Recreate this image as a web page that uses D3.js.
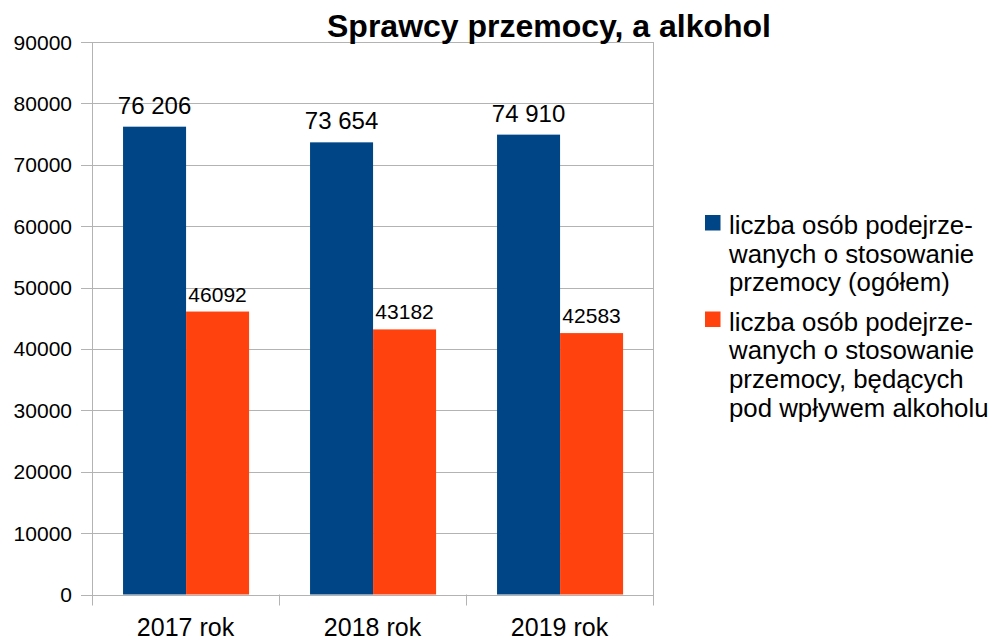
<!DOCTYPE html>
<html>
<head>
<meta charset="utf-8">
<script src="https://cdn.jsdelivr.net/npm/d3@7"></script>
<style>
    body { margin: 0; background: #fff; }
    text { font-family: "Liberation Sans", Arial, sans-serif; fill: #000; }
</style>
</head>
<body>
<div id="chart"></div>
<script>
var years = ["2017 rok", "2018 rok", "2019 rok"];
var ogolem = [76206, 73654, 74910];
var alkohol = [46092, 43182, 42583];
var seriesNames = [
    ["liczba osób podejrze-", "wanych o stosowanie", "przemocy (ogółem)"],
    ["liczba osób podejrze-", "wanych o stosowanie", "przemocy, będących", "pod wpływem alkoholu"]
];
var yTicks = [0, 10000, 20000, 30000, 40000, 50000, 60000, 70000, 80000, 90000];

var width = 991, height = 641;
var plot = {left: 92, right: 653, top: 42, bottom: 594.5};
var colors = ["#004586", "#ff420e"];

var svg = d3.select("#chart")
    .append("svg")
    .attr("width", width)
    .attr("height", height);

var y = d3.scaleLinear().domain([0, 90000]).range([plot.bottom, plot.top]);
var x = d3.scaleBand().domain(years).range([plot.left, plot.right]);
var x1 = d3.scaleBand().domain([0, 1])
    .range([x.bandwidth() * 0.166, x.bandwidth() * 0.84]);

// gridlines
svg.selectAll(".grid")
    .data(yTicks)
    .enter()
    .append("line")
    .attr("x1", plot.left - 11)
    .attr("x2", plot.right)
    .attr("y1", function (d) { return Math.round(y(d)) + 0.5; })
    .attr("y2", function (d) { return Math.round(y(d)) + 0.5; })
    .style("stroke", "#b3b3b3")
    .style("stroke-width", 1);

// vertical lines and category ticks
var edges = [plot.left, plot.right];
svg.selectAll(".edge")
    .data(edges)
    .enter()
    .append("line")
    .attr("x1", function (d) { return Math.round(d) + 0.5; })
    .attr("x2", function (d) { return Math.round(d) + 0.5; })
    .attr("y1", plot.top)
    .attr("y2", plot.bottom + 11)
    .style("stroke", "#b3b3b3");

svg.selectAll(".ctick")
    .data(years.slice(1))
    .enter()
    .append("line")
    .attr("x1", function (d) { return Math.round(x(d)) + 0.5; })
    .attr("x2", function (d) { return Math.round(x(d)) + 0.5; })
    .attr("y1", plot.bottom)
    .attr("y2", plot.bottom + 11)
    .style("stroke", "#b3b3b3");

// y labels
svg.selectAll(".ylab")
    .data(yTicks)
    .enter()
    .append("text")
    .attr("x", 72)
    .attr("y", function (d) { return y(d) + 7.5; })
    .attr("text-anchor", "end")
    .style("font-size", "21px")
    .text(function (d) { return d; });

// x labels
svg.selectAll(".xlab")
    .data(years)
    .enter()
    .append("text")
    .attr("x", function (d) { return x(d) + x.bandwidth() / 2; })
    .attr("y", 636)
    .attr("text-anchor", "middle")
    .style("font-size", "25px")
    .text(function (d) { return d; });

// bars
var spaced = d3.formatLocale({decimal: ",", thousands: " ", grouping: [3], currency: ["", ""]}).format(",d");
var rows = [];
years.forEach(function (yr, i) {
    rows.push({year: yr, s: 0, v: ogolem[i]});
    rows.push({year: yr, s: 1, v: alkohol[i]});
});

svg.selectAll(".bar")
    .data(rows)
    .enter()
    .append("rect")
    .attr("x", function (d) { return x(d.year) + x1(d.s); })
    .attr("width", x1.bandwidth())
    .attr("y", function (d) { return y(d.v); })
    .attr("height", function (d) { return plot.bottom - y(d.v); })
    .style("fill", function (d) { return colors[d.s]; });

svg.selectAll(".val")
    .data(rows)
    .enter()
    .append("text")
    .attr("x", function (d) { return x(d.year) + x1(d.s) + x1.bandwidth() / 2; })
    .attr("y", function (d) { return y(d.v) - (d.s === 0 ? 13 : 10); })
    .attr("text-anchor", "middle")
    .style("font-size", function (d) { return d.s === 0 ? "24px" : "21px"; })
    .text(function (d) { return d.s === 0 ? spaced(d.v) : d.v; });

// title
svg.append("text")
    .attr("x", 549)
    .attr("y", 37)
    .attr("text-anchor", "middle")
    .style("font-size", "32px")
    .style("font-weight", "bold")
    .text("Sprawcy przemocy, a alkohol");

// legend
var legendTops = [215, 311.5];
seriesNames.forEach(function (lines, i) {
    var g = svg.append("g");
    g.append("rect")
        .attr("x", 705)
        .attr("y", legendTops[i])
        .attr("width", 15.5)
        .attr("height", 15.5)
        .style("fill", colors[i]);
    g.selectAll("text")
        .data(lines)
        .enter()
        .append("text")
        .attr("x", 729)
        .attr("y", function (d, j) { return legendTops[i] + 19 + j * 28.7; })
        .style("font-size", "25.8px")
        .text(function (d) { return d; });
});
</script>
</body>
</html>
